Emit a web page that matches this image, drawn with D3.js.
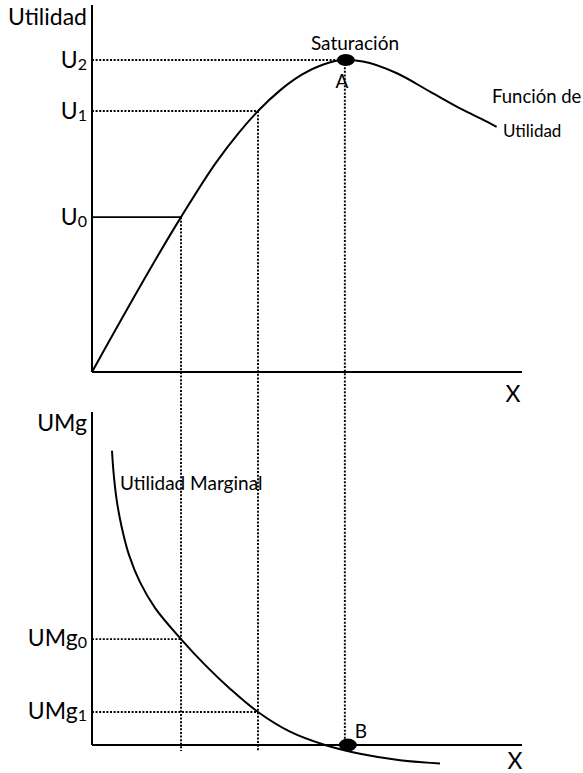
<!DOCTYPE html>
<html>
<head>
<meta charset="utf-8">
<script src="https://cdn.jsdelivr.net/npm/d3@7"></script>
<style>
body { margin: 0; background: #fff; }
text { font-family: Lato, "Open Sans", sans-serif; fill: #000; }
</style>
</head>
<body>
<svg id="chart" width="583" height="773"></svg>
<script>
// quantities of X used as references (x0, x1, saturation)
const xLevels = [20.7, 38.6, 58.8];
// total utility levels U0, U1, U2
const uLevels = [42.2, 71.1, 85.0];
const uSubs = ["0", "1", "2"];
// marginal utility levels UMg0, UMg1
const umgLevels = [31.8, 9.9];
const umgSubs = ["0", "1"];

// total utility curve
const utilX = [0, 20.7, 28.8, 33.8, 38.6, 43.8, 48.8, 53.8, 58.8, 63.0, 70.9, 78.6, 86.3, 91.0, 94.1];
const utilY = [0, 42.2, 57.0, 64.7, 71.1, 76.8, 81.0, 83.8, 85.0, 84.6, 81.4, 76.4, 71.4, 68.7, 66.8];

// marginal utility curve
const margX = [4.65, 5.0, 5.7, 6.86, 8.6, 11.16, 14.65, 20.7, 26.28, 32.09, 38.6, 46.05, 54.19, 62.33, 71.63, 80.93];
const margY = [88.35, 82.0, 73.9, 65.7, 57.1, 48.9, 41.2, 31.8, 24.05, 16.9, 9.9, 4.0, 0, -2.63, -4.56, -5.53];

const svg = d3.select("#chart");

let x = d3.scaleLinear().domain([0, 100]).range([92, 522]);
let yTop = d3.scaleLinear().domain([0, 100]).range([372, 5]);
let yBot = d3.scaleLinear().domain([0, 100]).range([745, 412]);

const dots = "2,1.6";
const dotWidth = 1.9;

// dotted guides first, so curves sit on top
for (let i = 0; i < xLevels.length; i++) {
    let bottom = i == 2 ? yBot(0) : yBot(-1.8);
    svg.append("line")
        .attr("x1", x(xLevels[i])).attr("x2", x(xLevels[i]))
        .attr("y1", yTop(uLevels[i])).attr("y2", bottom)
        .attr("stroke", "#000")
        .attr("stroke-width", dotWidth)
        .attr("stroke-dasharray", dots);
}

uLevels.forEach(function(u, i) {
    svg.append("line")
        .attr("x1", x(0)).attr("x2", x(xLevels[i]))
        .attr("y1", yTop(u)).attr("y2", yTop(u))
        .attr("stroke", "#000")
        .attr("stroke-width", i == 0 ? 1.6 : dotWidth)
        .attr("stroke-dasharray", i == 0 ? null : dots);

    let t = svg.append("text")
        .attr("x", 87)
        .attr("y", yTop(u) + 8)
        .attr("text-anchor", "end")
        .attr("font-size", "23px")
        .text("U");
    t.append("tspan")
        .attr("font-size", "16px")
        .attr("dy", 2)
        .text(uSubs[i]);
});

umgLevels.forEach(function(u, i) {
    svg.append("line")
        .attr("x1", x(0)).attr("x2", x(xLevels[i]))
        .attr("y1", yBot(u)).attr("y2", yBot(u))
        .attr("stroke", "#000")
        .attr("stroke-width", dotWidth)
        .attr("stroke-dasharray", dots);

    let t = svg.append("text")
        .attr("x", 87)
        .attr("y", yBot(u) + 7)
        .attr("text-anchor", "end")
        .attr("font-size", "23px")
        .text("UMg");
    t.append("tspan")
        .attr("font-size", "16px")
        .attr("dy", 2)
        .text(umgSubs[i]);
});

// axes
function axisLines(yScale, top) {
    svg.append("line")
        .attr("x1", x(0)).attr("x2", x(0))
        .attr("y1", top).attr("y2", yScale(0))
        .attr("stroke", "#000").attr("stroke-width", 2);
    svg.append("line")
        .attr("x1", x(0)).attr("x2", x(100))
        .attr("y1", yScale(0)).attr("y2", yScale(0))
        .attr("stroke", "#000").attr("stroke-width", 2);
}
axisLines(yTop, yTop(100));
axisLines(yBot, yBot(100));

// curves
let topLine = d3.line()
    .x(function(d) { return x(d[0]); })
    .y(function(d) { return yTop(d[1]); })
    .curve(d3.curveMonotoneX);
let botLine = d3.line()
    .x(function(d) { return x(d[0]); })
    .y(function(d) { return yBot(d[1]); })
    .curve(d3.curveCatmullRom.alpha(0.5));

svg.append("path")
    .datum(d3.zip(utilX, utilY))
    .attr("d", topLine)
    .attr("fill", "none")
    .attr("stroke", "#000")
    .attr("stroke-width", 2);

svg.append("path")
    .datum(d3.zip(margX, margY))
    .attr("d", botLine)
    .attr("fill", "none")
    .attr("stroke", "#000")
    .attr("stroke-width", 2);

// saturation points
svg.append("ellipse")
    .attr("cx", x(xLevels[2]) + 1).attr("cy", yTop(uLevels[2]))
    .attr("rx", 9).attr("ry", 6);
svg.append("ellipse")
    .attr("cx", x(xLevels[2]) + 3).attr("cy", yBot(0))
    .attr("rx", 9).attr("ry", 6.5);

// labels
function label(txt, px, py, size, anchor) {
    svg.append("text")
        .attr("x", px).attr("y", py)
        .attr("font-size", size + "px")
        .attr("text-anchor", anchor || "start")
        .text(txt);
}
label("Utilidad", 87, 25, 23, "end");
label("UMg", 87, 431, 23, "end");
label("X", 513, 402, 23, "middle");
label("X", 515, 769, 23, "middle");
label("Saturación", 355, 50, 19, "middle");
label("A", 342, 88, 19, "middle");
label("B", 361, 738, 19, "middle");
label("Función de", 492, 103, 18.5);
label("Utilidad", 503, 137, 17);
label("Utilidad Marginal", 120, 490, 19);
</script>
</body>
</html>
